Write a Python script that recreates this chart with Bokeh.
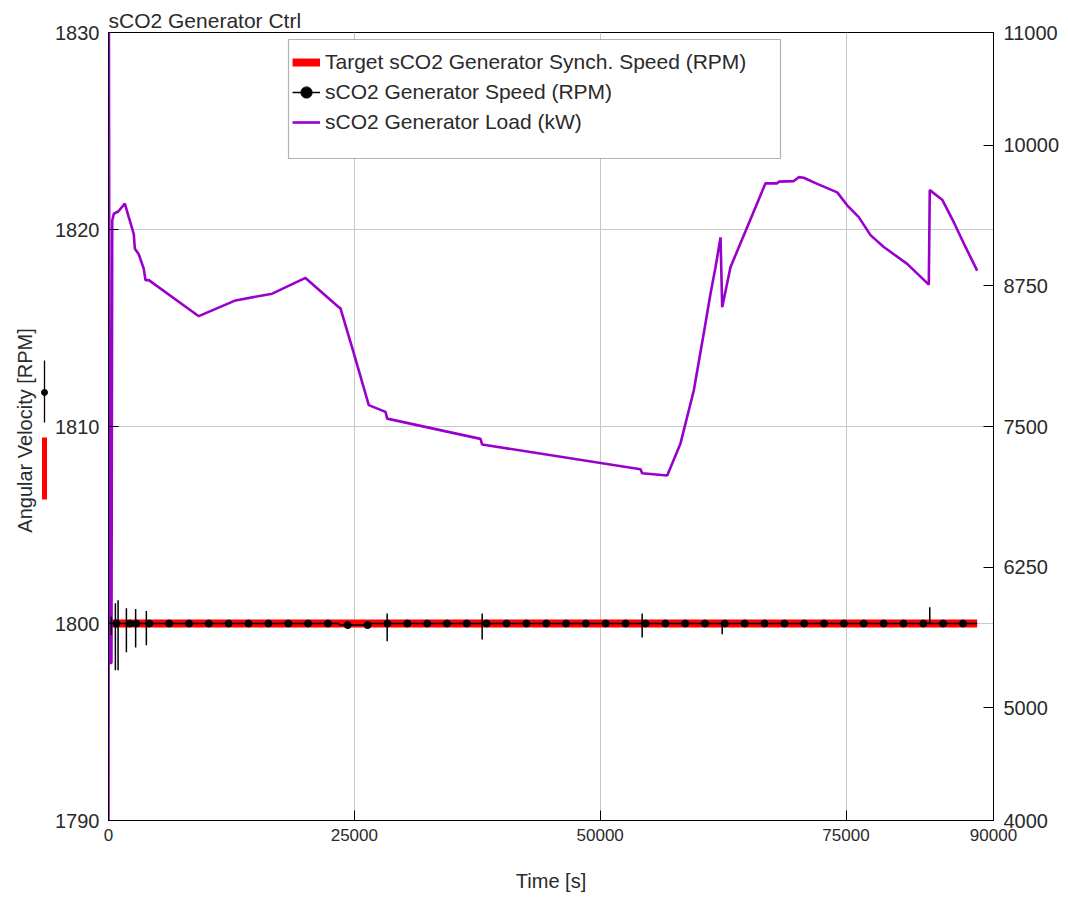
import math
from bokeh.plotting import figure
from bokeh.layouts import row
from bokeh.core.properties import value
from bokeh.models import (Range1d, LinearAxis, FixedTicker, Legend, LegendItem,
                          BoxAnnotation)
from bokeh.embed import file_html
from bokeh.resources import INLINE

# ---------------- data ----------------
title_text = "sCO2 Generator Ctrl"
x_label = "Time [s]"
y_label = "Angular Velocity [RPM]"
x_ticks = [0, 25000, 50000, 75000, 90000]
left_ticks = [1790, 1800, 1810, 1820, 1830]
right_ticks = [4000, 5000, 6250, 7500, 8750, 10000, 11000]

# Target synch speed (RPM)
target_t = [0, 88340]
target_v = [1800, 1800]

# Generator speed (RPM) line, with the transient spikes
speed_t = [0,
           290, 290, 290, 290,
           700, 700, 700, 700,
           975, 975, 975, 975,
           1820, 1820, 1820, 1820,
           2760, 2760, 2760, 2760,
           3850, 3850, 3850, 3850,
           23420, 23500, 26470, 26550,
           28340, 28340, 28340, 28340,
           38000, 38000, 38000, 38000,
           54270, 54270, 54270, 54270,
           62410, 62410, 62410,
           83520, 83520, 83520,
           88340]
speed_v = [1800,
           1800, 1800.34, 1799.41, 1800,
           1800, 1801.03, 1797.63, 1800,
           1800, 1801.18, 1797.63, 1800,
           1800, 1800.78, 1798.54, 1800,
           1800, 1800.73, 1798.78, 1800,
           1800, 1800.64, 1798.9, 1800,
           1800, 1799.92, 1799.92, 1800,
           1800, 1800.51, 1799.1, 1800,
           1800, 1800.51, 1799.19, 1800,
           1800, 1800.51, 1799.29, 1800,
           1800, 1799.46, 1800,
           1800, 1800.83, 1800,
           1800]

# Generator speed marker positions
marker_t = [800, 2150, 2830, 4150, 6170, 8190, 10200, 12220, 14240, 16260, 18280,
            20300, 22310, 24330, 26350, 28370, 30390, 32410, 34420, 36440, 38460,
            40480, 42500, 44520, 46530, 48550, 50570, 52590, 54610, 56630, 58640,
            60660, 62680, 64700, 66720, 68740, 70750, 72770, 74790, 76810, 78830,
            80850, 82860, 84880, 86900]
marker_v = [1800, 1800, 1800, 1800, 1800, 1800, 1800, 1800, 1800, 1800, 1800,
            1800, 1800, 1799.92, 1799.92, 1800, 1800, 1800, 1800, 1800, 1800,
            1800, 1800, 1800, 1800, 1800, 1800, 1800, 1800, 1800, 1800,
            1800, 1800, 1800, 1800, 1800, 1800, 1800, 1800, 1800, 1800,
            1800, 1800, 1800, 1800]

# Generator load (kW), right axis
load_t = [0, 40, 150, 300, 380, 540, 990, 1660, 2060, 2570, 2680, 3080, 3590, 3760,
          4100, 9180, 12920, 16650, 20030, 23420, 23590, 24950, 26470, 28170, 28340,
          37830, 38000, 54100, 54270, 56820, 58170, 59520, 60540, 61220, 61730, 62240,
          62410, 63250, 64950, 66810, 68000, 68170, 69690, 70200, 70710, 72070, 74110,
          75120, 76300, 77490, 78840, 81220, 83420, 83520, 84780, 85960, 87150, 88340]
load_kw = [4000, 11000, 5400, 5400, 9330, 9390, 9410, 9480, 9360, 9210, 9080, 9030,
           8900, 8800, 8800, 8480, 8620, 8680, 8820, 8560, 8550, 8150, 7690, 7630, 7570,
           7390, 7340, 7120, 7085, 7065, 7350, 7820, 8330, 8680, 8915, 9180, 8560, 8915,
           9270, 9660, 9660, 9675, 9680, 9715, 9710, 9655, 9580, 9465, 9360, 9200, 9095,
           8945, 8760, 9600, 9515, 9315, 9095, 8885]

labels = ["Target sCO2 Generator Synch. Speed (RPM)",
          "sCO2 Generator Speed (RPM)",
          "sCO2 Generator Load (kW)"]

# ---------------- styling ----------------
FONT = "Liberation Sans"
TXT = "#2a2a2a"
RED = "#ff0000"
PURPLE = "#9900cc"
SIDE_W = 50

p = figure(frame_width=885, frame_height=788,
           min_border_left=108 - SIDE_W, min_border_right=75,
           min_border_top=32, min_border_bottom=86,
           x_range=Range1d(0, 90000), y_range=Range1d(1790, 1830),
           output_backend="svg", toolbar_location=None,
           title=title_text)
p.extra_y_ranges = {"load": Range1d(4000, 11000)}

p.background_fill_color = "white"
p.border_fill_color = "white"
p.outline_line_color = "black"
p.outline_line_width = 1

p.title.text_font = FONT
p.title.text_font_size = "21px"
p.title.text_font_style = "normal"
p.title.text_color = TXT
p.title.align = "left"
p.title.standoff = 2

# axes
xax = p.xaxis[0]
xax.ticker = FixedTicker(ticks=x_ticks)
xax.axis_label = x_label
yax = p.yaxis[0]
yax.ticker = FixedTicker(ticks=left_ticks)

rax = LinearAxis(y_range_name="load", ticker=FixedTicker(ticks=right_ticks))
p.add_layout(rax, "right")

for ax in (xax, yax, rax):
    ax.axis_line_color = "black"
    ax.major_tick_line_color = "black"
    ax.major_tick_in = 10
    ax.major_tick_out = 0
    ax.minor_tick_line_color = None
    ax.major_label_text_font = FONT
    ax.major_label_text_color = TXT
    ax.axis_label_text_font = FONT
    ax.axis_label_text_font_style = "normal"
    ax.axis_label_text_color = TXT
    ax.axis_label_text_font_size = "20px"
    ax.major_label_text_font_size = "20px"

xax.major_label_text_font_size = "17px"
xax.major_label_standoff = 8
xax.axis_label_standoff = 26
yax.major_label_standoff = 9
rax.major_label_standoff = 10

p.xgrid.grid_line_color = "#c8c8c8"
p.ygrid.grid_line_color = "#c8c8c8"
p.xgrid.grid_line_width = 1
p.ygrid.grid_line_width = 1

# ---------------- glyphs ----------------
r_target = p.line(target_t, target_v, line_color=RED, line_width=8)
r_load = p.line(load_t, load_kw, line_color=PURPLE, line_width=2.6,
                y_range_name="load")
r_speed = p.line(speed_t, speed_v, line_color="black", line_width=1.5)
r_dots = p.scatter(marker_t, marker_v, marker="circle", size=7,
                   fill_color="black", line_color="black")

# ---------------- legend ----------------
box = BoxAnnotation(left=288 - SIDE_W, right=780 - SIDE_W, top=39, bottom=158,
                    left_units="canvas", right_units="canvas",
                    top_units="canvas", bottom_units="canvas",
                    fill_color="white", fill_alpha=1.0,
                    line_color="black", line_width=1.2)
p.add_layout(box)

legend = Legend(items=[LegendItem(label=labels[0], renderers=[r_target]),
                       LegendItem(label=labels[1], renderers=[r_speed, r_dots]),
                       LegendItem(label=labels[2], renderers=[r_load])],
                location=(176, 675), orientation="vertical")
legend.margin = 0
legend.padding = 8
legend.spacing = 0
legend.label_height = 30
legend.glyph_height = 30
legend.glyph_width = 28
legend.label_standoff = 5
legend.label_text_font = FONT
legend.label_text_font_size = "21px"
legend.label_text_color = TXT
legend.border_line_alpha = 0
legend.background_fill_alpha = 0
p.add_layout(legend, "center")

# ---------------- side strip: axis title + series keys ----------------
s = figure(frame_width=SIDE_W, frame_height=788,
           min_border_left=0, min_border_right=0,
           min_border_top=32, min_border_bottom=86,
           x_range=Range1d(0, SIDE_W), y_range=p.y_range,
           x_axis_type=None, y_axis_type=None,
           output_backend="svg", toolbar_location=None)
s.outline_line_color = None
s.background_fill_color = "white"
s.border_fill_color = "white"
s.grid.visible = False
s.text(x=[24], y=[1809.8], text=[y_label], angle=math.pi / 2,
       text_align="center", text_baseline="middle",
       text_font=value(FONT), text_font_size=value("20px"), text_color=TXT)
# key for generator speed (line with dot) and target speed (red bar)
s.segment(x0=[44], y0=[1813.35], x1=[44], y1=[1810.2],
          line_color="black", line_width=1.3)
s.scatter(x=[44], y=[1811.73], size=6, marker="circle",
          fill_color="black", line_color="black")
s.segment(x0=[44], y0=[1809.44], x1=[44], y1=[1806.29],
          line_color=RED, line_width=5, line_cap="butt")

layout = row(s, p, spacing=0)
open("out.html", "w").write(file_html(layout, INLINE))
